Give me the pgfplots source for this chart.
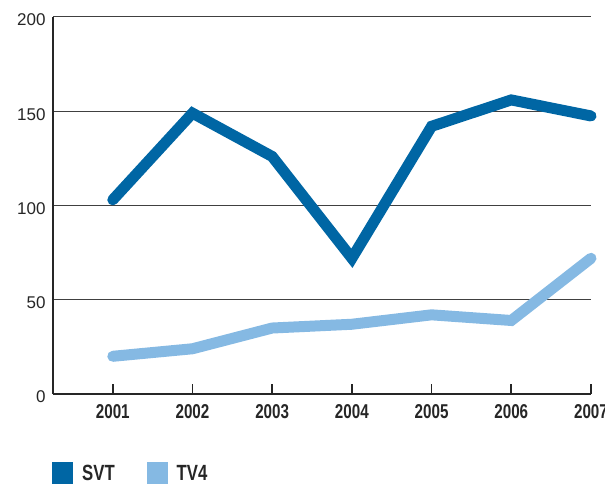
\documentclass[border=0pt]{standalone}
\usepackage{fontspec}
\setmainfont{Liberation Sans}
\newfontfamily\narrowb[FakeStretch=0.76]{Liberation Sans}
\usepackage{pgfplots}
\pgfplotsset{compat=1.18}
\definecolor{svt}{HTML}{0066A4}
\definecolor{tvfour}{HTML}{85B9E3}
\begin{document}
\begin{tikzpicture}
\path[use as bounding box] (-53pt,-93pt) rectangle (552pt,394pt);
\begin{axis}[
  at={(0,0)}, anchor=south west,
  scale only axis, width=538pt, height=377pt,
  xmin=2000.25, xmax=2007, ymin=0, ymax=200,
  axis lines=left,
  axis line style={-, line width=1.6pt, draw=black!85},
  xtick={2001,...,2007},
  xticklabels={2001,2002,2003,2004,2005,2006,2007},
  ytick={0,50,100,150,200},
  yticklabels={0,50,100,150,200},
  x tick style={line width=1.8pt, draw=black!85},
  tick align=inside,
  major tick length=10pt,
  y tick style={draw=none},
  extra y ticks={0},
  extra y tick labels={},
  extra y tick style={y tick style={draw=black!85, line width=2.5pt}, major tick length=13pt, grid=none},
  ymajorgrids,
  grid style={line width=1pt, draw=black!75},
  xticklabel style={font=\narrowb\bfseries\fontsize{20}{20}\selectfont, yshift=-7pt, text=black!85},
  yticklabel style={font=\fontsize{17}{17}\selectfont, xshift=-4pt, yshift=-3pt, text=black!85},
  clip=false,
  legend columns=2,
  legend image code/.code={\fill[#1, draw=none] (0pt,-11pt) rectangle (21pt,11pt);},
  legend style={at={([xshift=-1pt,yshift=-68pt]axis description cs:0,0)}, anchor=north west,
    draw=none, fill=none, inner sep=0pt,
    font=\narrowb\bfseries\fontsize{22}{22}\selectfont,
    nodes={inner sep=0pt, text=black!85},
    cells={anchor=west},
    /tikz/every odd column/.append style={column sep=9pt},
    /tikz/every even column/.append style={column sep=32pt}},
]
\addplot[color=svt, line width=11pt, line cap=round, line join=miter] coordinates {
  (2001,103) (2002,149) (2003,126) (2004,72) (2005,142) (2006,156) (2007,147.5)};
\addlegendentry{SVT}
\addplot[color=tvfour, line width=11pt, line cap=round, line join=miter] coordinates {
  (2001,20) (2002,24) (2003,35) (2004,37) (2005,42) (2006,39) (2007,72)};
\addlegendentry{TV4}
\end{axis}
\end{tikzpicture}
\end{document}
